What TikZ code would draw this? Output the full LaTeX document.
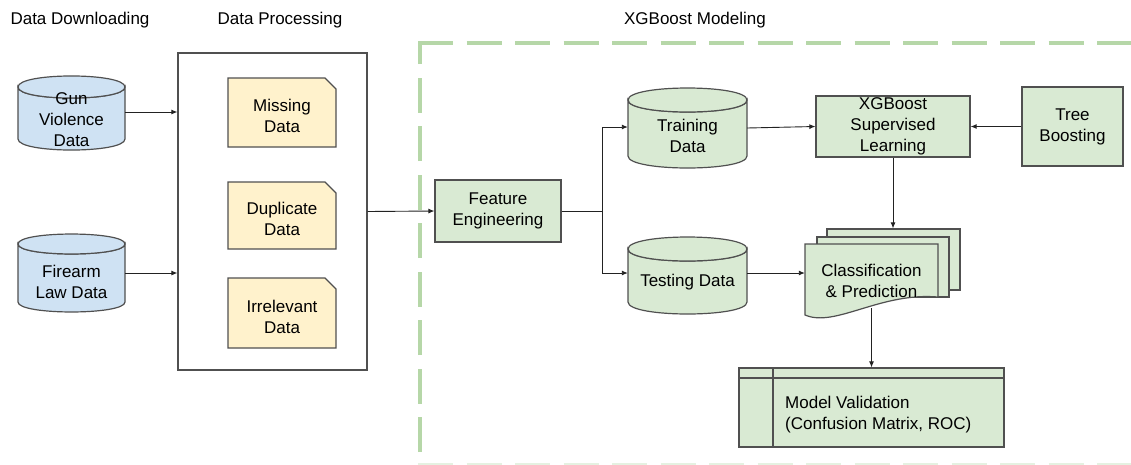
\documentclass[tikz,border=0pt]{standalone}
\usepackage{fontspec}
\setmainfont{Liberation Sans}
\usetikzlibrary{arrows.meta}
\definecolor{gfill}{HTML}{D9EAD3}
\definecolor{bfill}{HTML}{CFE2F3}
\definecolor{yfill}{HTML}{FFF2CC}
\definecolor{dashc}{HTML}{B6D7A8}
\definecolor{bord}{HTML}{505050}
\definecolor{arrc}{HTML}{222222}
\tikzset{
  lbl/.style={font=\fontsize{17}{21}\selectfont, align=center, inner sep=0pt},
  shp/.style={draw=bord, line width=1.2pt},
  gbox/.style={lbl, shp, fill=gfill, rectangle},
  sheet/.style={shp, fill=gfill, rectangle, inner sep=0pt},
  arr/.style={-{Latex[length=6pt,width=5pt]}, line width=0.9pt, draw=arrc},
  ln/.style={line width=0.9pt, draw=arrc},
  frame/.style={draw=dashc, line width=4pt, dash pattern=on 35pt off 13.5pt},
}
\newcommand\mycyl[6]{%
  \filldraw[shp, fill=#6] (#1,#3) -- (#1,#4) .. controls (#1,#4+#5) and (#2,#4+#5) .. (#2,#4) -- (#2,#3) .. controls (#2,#3+#5) and (#1,#3+#5) .. (#1,#3) -- cycle;
  \filldraw[shp, fill=#6] (#1,#3) .. controls (#1,#3-#5) and (#2,#3-#5) .. (#2,#3) .. controls (#2,#3+#5) and (#1,#3+#5) .. (#1,#3) -- cycle;
}
\newcommand\mynote[4]{%
  \filldraw[shp, fill=yfill] (#1,#2) -- (#3-11,#2) -- (#3,#2+11) -- (#3,#4) -- (#1,#4) -- cycle;
}
\begin{document}
\begin{tikzpicture}[x=1pt,y=-1pt]
\useasboundingbox (0,0) rectangle (1131,464);
% modeling frame
\draw[frame] (420,452) -- (420,43);
\draw[frame] (418,43) -- (1140,43);
\draw[draw=dashc!35, line width=2pt, dash pattern=on 35pt off 13.5pt] (418,464) -- (1140,464);

% titles
\node[lbl] (t1) at (80,20) {Data Downloading};
\node[lbl] (t2) at (280,20) {Data Processing};
\node[lbl] (t3) at (695,20) {XGBoost Modeling};

% data downloading
\mycyl{18}{125}{87}{139}{14.7}{bfill}
\node[lbl, minimum width=107pt] (gun) at (71.5,120) {Gun\\Violence\\Data};
\mycyl{18}{125}{244}{302}{13.3}{bfill}
\node[lbl, minimum width=107pt] (fire) at (71.5,282) {Firearm\\Law Data};

% data processing
\node[shp, rectangle, fill=white, minimum width=189pt, minimum height=317pt] (proc) at (272.5,211.5) {};
\mynote{228}{78}{336}{147}
\node[lbl] (miss) at (282,116) {Missing\\Data};
\mynote{228}{182}{336}{249}
\node[lbl] (dup) at (282,219) {Duplicate\\Data};
\mynote{228}{278}{336}{348}
\node[lbl] (irr) at (282,317) {Irrelevant\\Data};

\draw[arr] ([yshift=8pt]gun.east) -- ([yshift=8pt]gun.east -| proc.west);
\draw[arr] ([yshift=9pt]fire.east) -- ([yshift=9pt]fire.east -| proc.west);

% modeling
\node[gbox, minimum width=126pt, minimum height=62pt] (fe) at (498,211) {Feature\\Engineering};
\draw[arr] (proc.east) -- (fe.west);

\mycyl{628}{747}{100}{156}{16}{gfill}
\node[lbl, minimum width=119pt] (train) at (687.5,136) {Training\\Data};
\mycyl{628}{747}{249}{302}{16}{gfill}
\node[lbl, minimum width=119pt] (test) at (687.5,282) {Testing Data};

\coordinate (split) at (602,211);
\draw[ln] (fe.east) -- (split);
\draw[arr] (split) |- ([yshift=9pt]train.west);
\draw[arr] (split) |- ([yshift=9pt]test.west);

\node[gbox, minimum width=154pt, minimum height=61pt] (xgb) at (893,126.5) {XGBoost\\Supervised\\Learning};
\node[gbox, minimum width=101pt, minimum height=79pt] (tree) at (1072.5,126.5) {Tree\\Boosting};
\draw[arr] ([yshift=8pt]train.east) -- (xgb.west);
\draw[arr] (tree.west) -- (xgb.east);

% multi-document
\node[sheet, minimum width=133pt, minimum height=61pt] (doc3) at (893.5,259.5) {};
\node[sheet, minimum width=132pt, minimum height=60pt] (doc2) at (883,267) {};
\filldraw[shp, fill=gfill] (805,244) -- (938,244) -- (938,297) .. controls (880,292) and (835,328) .. (805,315) -- cycle;
\node[lbl, minimum width=133pt, minimum height=73pt] (doc) at (871.5,280.5) {Classification\\\& Prediction};
\draw[arr] (xgb.south) -- (xgb.south |- doc3.north);
\draw[arr] ([yshift=9pt]test.east) -- ([yshift=9pt]test.east -| doc.west);

% model validation
\node[shp, rectangle, fill=gfill, minimum width=265pt, minimum height=79pt, inner sep=0pt,
  path picture={
    \draw[draw=bord, line width=1.2pt] ([yshift=-10pt]path picture bounding box.north west) -- ([yshift=-10pt]path picture bounding box.north east);
    \draw[draw=bord, line width=1.2pt] ([xshift=34pt]path picture bounding box.north west) -- ([xshift=34pt]path picture bounding box.south west);
  }] (mv) at (871.5,407.5) {};
\node[lbl, align=left, anchor=west] (mvtext) at (785,415) {Model Validation\\(Confusion Matrix, ROC)};
\draw[arr] ([yshift=9pt]doc.south) -- (mv.north);
\end{tikzpicture}
\end{document}
